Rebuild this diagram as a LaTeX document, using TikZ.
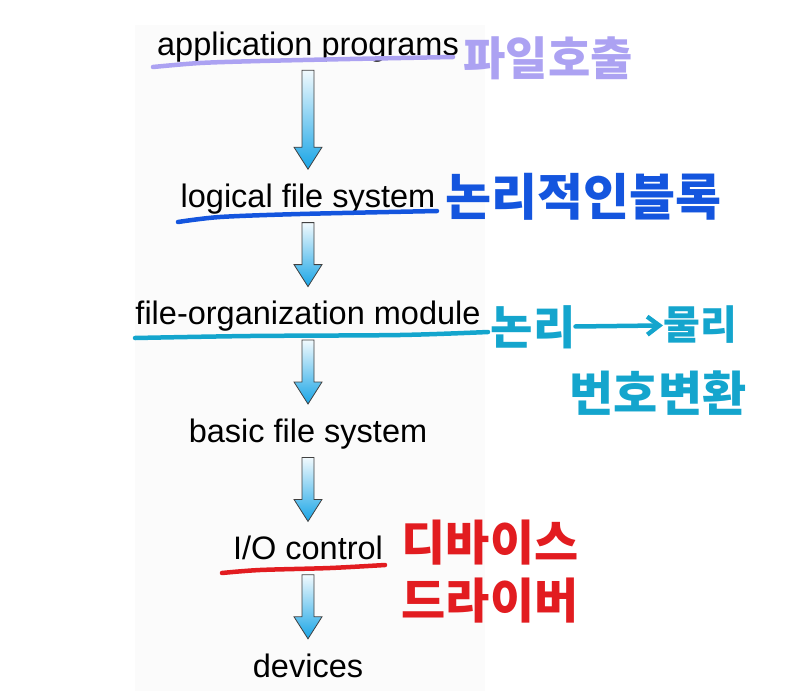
\documentclass[tikz,border=0pt]{standalone}
\usepackage{fontspec}
\setmainfont{Liberation Sans}
\newfontfamily\kor{Noto Sans CJK KR}
\usetikzlibrary{positioning,calc,arrows.meta}
\definecolor{arrowblue}{RGB}{25,165,230}
\definecolor{penlavender}{RGB}{172,162,242}
\definecolor{penblue}{RGB}{20,85,222}
\definecolor{pencyan}{RGB}{20,165,205}
\definecolor{penred}{RGB}{226,28,32}

% block arrow from the bottom of one layer to the top of the next
\newcommand{\layerarrow}[2]{%
  \draw[blockarrow] let \p1=($(#1.south)+(0,-8pt)$), \p2=($(#2.north)+(0,14pt)$) in
    (\x1-6pt,\y1) -- (\x1+6pt,\y1) -- (\x1+6pt,\y2+22pt) -- (\x1+14pt,\y2+22pt)
    -- (\x1,\y2) -- (\x1-14pt,\y2+22pt) -- (\x1-6pt,\y2+22pt) -- cycle;}

\begin{document}
\begin{tikzpicture}[
        x=1pt, y=-1pt,
        node distance=86pt,
        layer/.style={font=\fontsize{32.5}{38}\selectfont, inner sep=0pt, text height=24pt, text depth=7pt},
        blockarrow/.style={draw=black!75, line width=0.8pt, line join=miter, top color=arrowblue!6, bottom color=arrowblue},
        pen/.style={line width=4.5pt, line cap=round, line join=round},
        note/.style={font=\kor\bfseries\fontsize{46}{56}\selectfont, inner sep=0pt, align=center}
    ]
        \useasboundingbox (0,0) rectangle (788,691);
        \fill[black!1.5] (135,25) rectangle (485,691);

        % layers
        \node[layer, anchor=base] (app) at (308,55) {application programs};
        \node[layer, below=121pt of app] (lfs) {logical file system};
        \node[layer, below=of lfs] (fom) {file-organization module};
        \node[layer, below=of fom] (bfs) {basic file system};
        \node[layer, below=of bfs] (ioc) {I/O control};
        \node[layer, below=of ioc] (dev) {devices};

        % arrows
        \layerarrow{app}{lfs}
        \layerarrow{lfs}{fom}
        \layerarrow{fom}{bfs}
        \layerarrow{bfs}{ioc}
        \layerarrow{ioc}{dev}

        % underlines
        \draw[pen, penlavender] plot[smooth] coordinates {(153,67) (200,63) (260,61) (350,59) (453,57)};
        \draw[pen, penblue] plot[smooth] coordinates {(178,222) (220,217) (300,214) (437,211)};
        \draw[pen, pencyan] plot[smooth] coordinates {(135,338) (250,336) (400,335) (488,332)};
        \draw[pen, penred] plot[smooth] coordinates {(222,573) (260,570) (330,568) (385,565)};

        % notes
        \node[note, penlavender] (call) at (548,58) {파일호출};
        \node[note, penblue, font=\kor\bfseries\fontsize{50}{60}\selectfont] (block) at (583,197) {논리적인블록};
        \node[note, pencyan] (logic) at (533,327) {논리};
        \node[note, pencyan, font=\kor\bfseries\fontsize{40}{48}\selectfont] (phys) at (700,325) {물리};
        \draw[pen, pencyan, -{Straight Barb[length=12pt, width=18pt]}] (logic) -- (phys);
        \node[note, pencyan, font=\kor\bfseries\fontsize{48}{56}\selectfont] (conv) at (658,393) {번호변환};
        \node[note, penred, font=\kor\bfseries\fontsize{48}{58}\selectfont] (driver) at (490,572) {디바이스\\드라이버};

    \end{tikzpicture}
\end{document}
